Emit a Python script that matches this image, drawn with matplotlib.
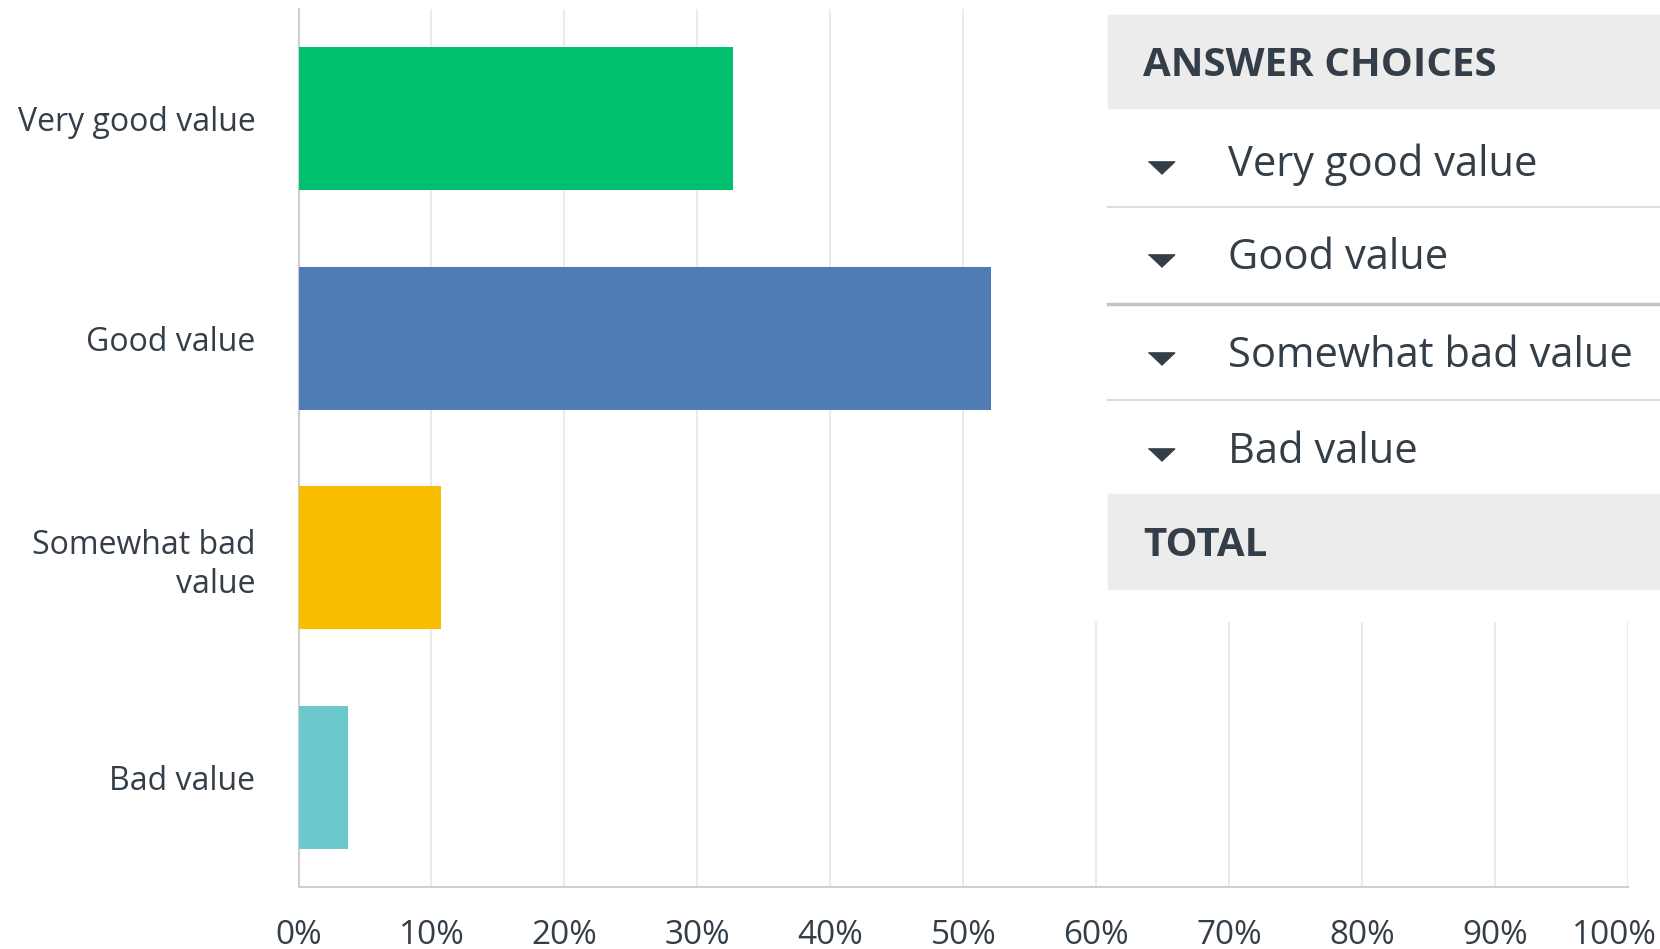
import matplotlib

matplotlib.use("Agg")

import matplotlib.pyplot as plt
from matplotlib.patches import Rectangle
from matplotlib.transforms import ScaledTranslation

plt.rcParams["font.family"] = ["Open Sans", "DejaVu Sans"]

categories = ["Very good value", "Good value", "Somewhat bad\nvalue", "Bad value"]
table_rows = ["Very good value", "Good value", "Somewhat bad value", "Bad value"]
values = [32.7, 52.1, 10.7, 3.7]
colors = ["#00bf6f", "#507cb6", "#f9be00", "#6bc8cd"]
xticks = [0, 10, 20, 30, 40, 50, 60, 70, 80, 90, 100]

TEXT = "#333e48"
W, H = 1660, 949


def main():
    fig = plt.figure(figsize=(W / 100, H / 100), dpi=100)
    fig.patch.set_facecolor("white")

    # main bar chart, placed in pixel terms
    left, right, top, bottom = 298.5, 1628, 9, 887
    ax = fig.add_axes([left / W, 1 - bottom / H, (right - left) / W, (bottom - top) / H])
    ypos = list(range(len(categories)))
    ax.barh(ypos, values, height=0.65, color=colors, zorder=3)
    ax.set_ylim(len(categories) - 0.5, -0.5)
    ax.set_xlim(0, 100)
    ax.set_yticks(ypos)
    ax.set_yticklabels(categories, fontsize=23, color=TEXT, ha="right", linespacing=1.25)
    ax.set_xticks(xticks)
    ax.set_xticklabels([f"{t}%" for t in xticks], fontsize=24, color=TEXT)
    ax.tick_params(axis="y", length=0, pad=31)
    ax.tick_params(axis="x", length=0, pad=23)
    ax.grid(axis="x", color="#e8e8e8", linewidth=1.2, zorder=0)
    ax.set_axisbelow(True)
    for side in ("top", "right"):
        ax.spines[side].set_visible(False)
    for side in ("left", "bottom"):
        ax.spines[side].set_color("#cfcfcf")
        ax.spines[side].set_linewidth(1.5)
    # last label is nudged left so it stays inside the frame
    last = ax.get_xticklabels()[-1]
    last.set_transform(last.get_transform() + ScaledTranslation(-0.14, 0, fig.dpi_scale_trans))

    # answer-choices table overlay, pixel coordinates with y pointing down
    tx0 = 1085
    tab = fig.add_axes([tx0 / W, 1 - 622 / H, (W - tx0) / W, 622 / H], zorder=5)
    tab.set_xlim(tx0, W)
    tab.set_ylim(622, 0)
    tab.axis("off")
    tab.add_patch(Rectangle((tx0, 0), W - tx0, 622, color="white", zorder=0))

    band_x = 1108
    tab.add_patch(Rectangle((band_x, 15), W - band_x, 93, color="#ececec", zorder=1))
    tab.text(1143, 66, "ANSWER CHOICES", fontsize=29, fontweight="bold",
             color=TEXT, va="center", ha="left", zorder=2)

    caret = [(-1, 0.35), (1, 0.35), (0, -0.6)]
    row_y = [165, 258, 356, 452]
    for label, y in zip(table_rows, row_y):
        tab.plot([1161], [y + 1], marker=caret, markersize=19, color=TEXT,
                 linestyle="none", zorder=2)
        tab.text(1228, y, label, fontsize=30, color=TEXT, va="center", ha="left", zorder=2)

    sep_y = [207, 304, 400]
    sep_style = [("#dddddd", 1.5), ("#c4c4c4", 2.5), ("#dddddd", 1.5)]
    for y, (c, lw) in zip(sep_y, sep_style):
        tab.plot([band_x, W], [y, y], color=c, linewidth=lw, zorder=2)

    tab.add_patch(Rectangle((band_x, 494), W - band_x, 95, color="#ececec", zorder=1))
    tab.text(1143, 545, "TOTAL", fontsize=29, fontweight="bold",
             color=TEXT, va="center", ha="left", zorder=2)

    fig.savefig("out.png", dpi=100)
    plt.close(fig)


if __name__ == "__main__":
    main()
